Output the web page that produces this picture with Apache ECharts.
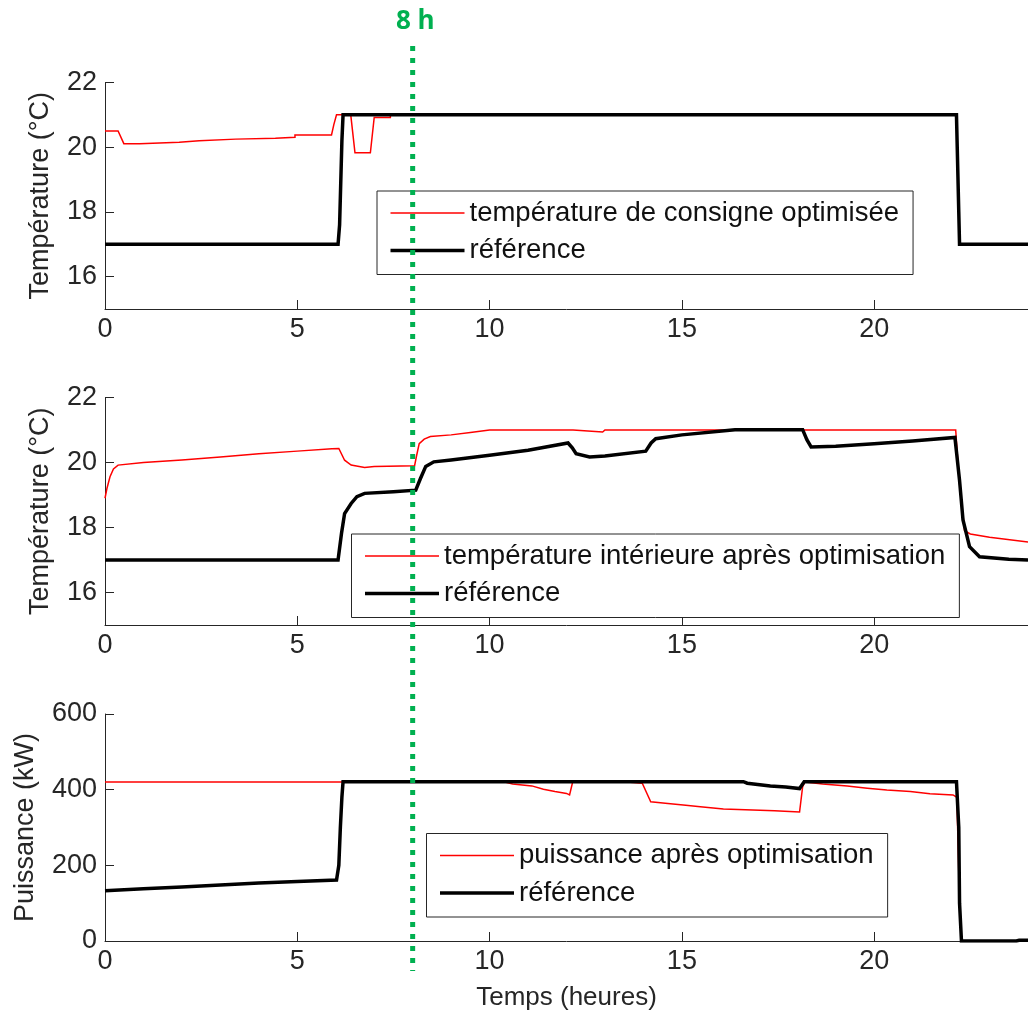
<!DOCTYPE html>
<html><head><meta charset="utf-8">
<script src="https://cdn.jsdelivr.net/npm/echarts@6/dist/echarts.min.js"></script>
<style>html,body{margin:0;padding:0;background:#fff}#c{width:1028px;height:1014px}</style>
</head><body><div id="c"></div>
<script>
// ---- data (time in hours, value) ----
const xTicks = [0, 5, 10, 15, 20];
const tempTicks = [16, 18, 20, 22];
const powerTicks = [0, 200, 400, 600];
const markHour = 8;

// Panel 1: setpoint temperatures (°C)
const spOpt = [[0,20.5],[0.34,20.5],[0.49,20.11],[0.9,20.11],[0.9,20.15],[1.93,20.15],[1.93,20.2],[2.45,20.2],[2.45,20.25],[3.4,20.25],[3.4,20.28],[4.43,20.28],[4.43,20.31],[4.94,20.31],[4.94,20.38],[5.89,20.38],[5.95,20.7],[6.02,21],[6.39,21],[6.5,19.83],[6.9,19.83],[7.0,20.92],[7.42,20.92],[7.42,21],[22.14,21],[22.22,17],[24,17]];
const spRef = [[0,17],[6.06,17],[6.1,17.6],[6.13,18.9],[6.16,20.2],[6.19,21],[22.14,21],[22.16,20.0],[22.2,18.0],[22.22,17],[24,17]];

// Panel 2: indoor temperatures (°C)
const tinOpt = [[0,18.9],[0.05,19.2],[0.13,19.56],[0.22,19.8],[0.34,19.92],[1,20.0],[2,20.08],[3,20.17],[4,20.27],[5,20.35],[5.9,20.42],[6.08,20.43],[6.23,20.07],[6.4,19.92],[6.75,19.85],[7.0,19.88],[8.05,19.9],[8.1,20.2],[8.17,20.58],[8.3,20.72],[8.46,20.8],[9.0,20.85],[9.5,20.92],[10.0,21.0],[12.17,21.0],[12.22,20.94],[12.94,20.94],[13.0,21.0],[22.12,21.0],[22.2,19.6],[22.28,18.6],[22.31,18.4],[22.35,17.9],[22.5,17.8],[23.0,17.7],[24,17.55]];
const tinRef = [[0,17],[6.06,17],[6.15,17.82],[6.23,18.43],[6.4,18.74],[6.55,18.95],[6.75,19.05],[7.5,19.1],[8.08,19.15],[8.2,19.5],[8.34,19.88],[8.55,20.02],[9,20.08],[10,20.22],[11,20.38],[12.04,20.6],[12.15,20.45],[12.25,20.27],[12.6,20.17],[13,20.2],[14.06,20.35],[14.2,20.6],[14.32,20.73],[15,20.85],[16.38,21.01],[18.14,21.01],[18.25,20.7],[18.36,20.48],[19,20.5],[20,20.58],[21,20.66],[22.1,20.77],[22.22,19.45],[22.31,18.23],[22.48,17.41],[22.74,17.1],[23.5,17.02],[24,17.0]];

// Panel 3: heating power (kW)
const pOpt = [[0,420],[10.4,420],[10.6,415],[11.1,410],[11.4,401],[11.7,395],[12.0,390],[12.08,386],[12.16,420],[13.58,420],[13.6,417],[13.97,417],[14.19,368],[14.57,364],[15.1,359],[15.48,355],[16.08,349],[17.41,344],[17.8,342],[18.06,341],[18.14,408],[18.2,420],[18.66,415],[19.3,410],[19.82,404],[20.33,399],[20.94,395],[21.45,389],[22.05,386],[22.15,380],[22.22,100],[22.27,0],[24,0]];
const pRef = [[0,133],[1,138],[2,143],[3,148],[4,153],[5,157],[6.02,161],[6.08,200],[6.12,300],[6.16,380],[6.19,421],[16.6,421],[16.7,417],[17.3,410],[17.7,407],[18.06,403],[18.18,421],[22.14,421],[22.2,300],[22.22,100],[22.27,0],[23.7,0],[23.77,2],[24,2]];

const names = {
  sp: 'température de consigne optimisée',
  tin: 'température intérieure après optimisation',
  p: 'puissance après optimisation',
  ref: 'référence'
};

const FONT = "'Liberation Sans', Arial, Helvetica, sans-serif";
const AX = '#262626';
const RED = '#ff0000';
const GREEN = '#00b050';
const ICON_THIN = 'path://M0 0H72V1.5H0Z';
const ICON_THICK = 'path://M0 0H72V3.5H0Z';

const grids = [
  {left:105, top:82.5, width:930.5, height:226.5},
  {left:105, top:397.5, width:930.5, height:227.5},
  {left:105, top:714, width:930.5, height:227},
  {left:105, top:46, width:930.5, height:925}
];

function xAx(gi, withName){
  return {
    gridIndex:gi, type:'value', min:0, max:24,
    axisLine:{show:true, onZero:false, lineStyle:{color:AX, width:1}},
    axisTick:{show:true, inside:true, length:9, customValues:xTicks, lineStyle:{color:AX}},
    axisLabel:{color:AX, fontSize:27, fontFamily:FONT, margin:7, customValues:xTicks},
    splitLine:{show:false},
    name: withName ? 'Temps (heures)' : '',
    nameLocation:'middle', nameGap:44,
    nameTextStyle:{color:AX, fontSize:26, fontFamily:FONT}
  };
}
function yAx(gi, min, max, ticks, name, gap){
  return {
    gridIndex:gi, type:'value', min:min, max:max,
    axisLine:{show:true, onZero:false, lineStyle:{color:AX, width:1}},
    axisTick:{show:true, inside:true, length:9, customValues:ticks, lineStyle:{color:AX}},
    axisLabel:{color:AX, fontSize:27, fontFamily:FONT, margin:8, customValues:ticks},
    splitLine:{show:false},
    name:name, nameLocation:'middle', nameGap:gap, nameRotate:90,
    nameTextStyle:{color:AX, fontSize:27, fontFamily:FONT}
  };
}
function legend(items, left, top){
  return {
    orient:'vertical', left:left, top:top,
    itemWidth:74, itemHeight:27, itemGap:9.5,
    padding:[8,14,10,13.5],
    borderColor:AX, borderWidth:1, backgroundColor:'#fff',
    selectedMode:false, symbolKeepAspect:true,
    textStyle:{color:'#111', fontSize:27.5, fontFamily:FONT},
    data: items
  };
}
function items(redName){
  return [
    {name:redName, icon:ICON_THIN, itemStyle:{color:RED, borderWidth:0}},
    {name:names.ref, icon:ICON_THICK, itemStyle:{color:'#000', borderWidth:0}}
  ];
}
function line(name, data, gi, color, width, z){
  return {
    type:'line', name:name, data:data, xAxisIndex:gi, yAxisIndex:gi,
    symbol:'none', showSymbol:false, z:z,
    lineStyle:{color:color, width:width, join:'miter'},
    itemStyle:{color:color},
    animation:false, silent:true
  };
}

const option = {
  backgroundColor:'#fff',
  animation:false,
  title:{
    text: markHour + ' h', left:396, top:9, padding:0,
    textStyle:{color:GREEN, fontSize:26, fontWeight:'bold', fontFamily:"'Open Sans', sans-serif"}
  },
  grid: grids,
  xAxis: [xAx(0,false), xAx(1,false), xAx(2,true),
    {gridIndex:3, type:'value', min:0, max:24, show:false}],
  yAxis: [
    yAx(0, 15, 22, tempTicks, 'Température (°C)', 51),
    yAx(1, 15, 22, tempTicks, 'Température (°C)', 51),
    yAx(2, 0, 600, powerTicks, 'Puissance (kW)', 66),
    {gridIndex:3, type:'value', min:0, max:1, show:false}
  ],
  legend: [
    legend(items(names.sp), 377, 191),
    legend(items(names.tin), 351.5, 534),
    legend(items(names.p), 426.5, 833.5)
  ],
  series: [
    line(names.sp, spOpt, 0, RED, 1.5, 2),
    line(names.ref, spRef, 0, '#000', 3.5, 3),
    line(names.tin, tinOpt, 1, RED, 1.5, 2),
    line(names.ref, tinRef, 1, '#000', 3.5, 3),
    line(names.p, pOpt, 2, RED, 1.5, 2),
    line(names.ref, pRef, 2, '#000', 3.5, 3),
    {
      type:'line', name:'marker', xAxisIndex:3, yAxisIndex:3,
      data:[[markHour,1],[markHour,0]], symbol:'none', z:10, silent:true, animation:false,
      lineStyle:{color:GREEN, width:5, type:[5,7], cap:'butt'}
    }
  ]
};
const chart = echarts.init(document.getElementById('c'), null, {renderer:'canvas'});
chart.setOption(option);
</script>
</body></html>
